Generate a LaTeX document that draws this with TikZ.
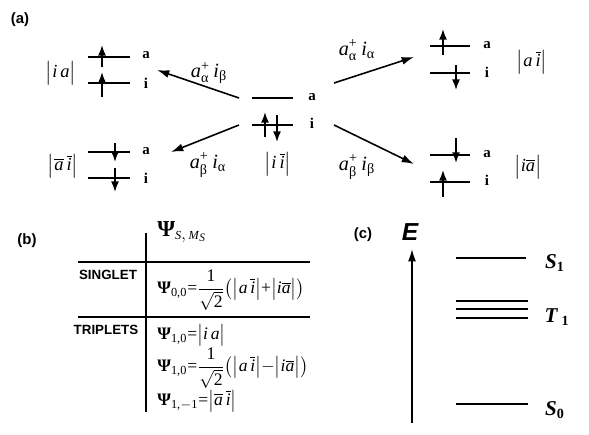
\documentclass[tikz,border=0pt]{standalone}
\usepackage{amsmath}
\usepackage{fontspec}
\setmainfont{Liberation Serif}
\setsansfont{Liberation Sans}
\usetikzlibrary{arrows.meta}

\begin{document}
\begin{tikzpicture}[x=0.02cm,y=-0.02cm]

\newcommand{\ti}[1]{\textit{#1}}
\newcommand{\ob}[1]{$\overline{\mbox{\textit{#1}}}$}
\newcommand{\kt}[1]{$\big|$#1$\big|$}
\newcommand{\Ps}{\textbf{Ψ}}
\newcommand{\op}[2]{$\text{\ti{a}}^{\text{+}}_{\text{#1}}\,\text{\ti{i}}_{\text{#2}}$}
\newcommand{\half}{$\dfrac{\text{1}}{\sqrt{\text{2}}}$}

 \tikzset{
      lev/.style={line width=1.1pt},
      spin/.style={line width=0.9pt,-{Latex[length=6pt,width=4.5pt]}},
      trans/.style={line width=0.9pt,-{Latex[length=7pt,width=4.5pt]}},
      orb/.style={font=\bfseries\fontsize{8.5}{8.5}\selectfont,inner sep=0pt},
      ketl/.style={font=\fontsize{10.5}{10.5}\selectfont,inner sep=0pt},
      opl/.style={font=\fontsize{11.5}{11.5}\selectfont,inner sep=0pt},
      part/.style={font=\sffamily\bfseries\fontsize{8.5}{8.5}\selectfont,inner sep=0pt},
      tabl/.style={font=\sffamily\bfseries\fontsize{7.6}{7.6}\selectfont,inner sep=0pt},
      eql/.style={font=\fontsize{10}{10}\selectfont,inner sep=0pt,anchor=west},
      lvl/.style={font=\bfseries\itshape\fontsize{12}{12}\selectfont,inner sep=0pt},
    }

 \useasboundingbox (0,0) rectangle (589,434);

% (a) centre: ground configuration
 \draw[lev] (252,98) -- (293,98);
 \draw[lev] (252,125) -- (293,125);
 \draw[spin] (265,137) -- (265,112);
 \draw[spin] (277,115) -- (277,142);
 \node[orb] (ca) at (312,97) {a};
 \node[orb] (ci) at (312,123) {i};
 \node[ketl] (kii) at (278,164) {\kt{\ti{i}\,\ob{i}}};

% upper left
 \draw[lev] (88,57) -- (130,57);
 \draw[lev] (88,83) -- (130,83);
 \draw[spin] (102,67) -- (102,45);
 \draw[spin] (102,97) -- (102,72);
 \node[orb] (tla) at (146,55) {a};
 \node[orb] (tli) at (146,83) {i};
 \node[ketl] (kia) at (61,73) {\kt{\ti{i}\,\ti{a}}};

% lower left
 \draw[lev] (88,152) -- (130,152);
 \draw[lev] (88,178) -- (130,178);
 \draw[spin] (115,143) -- (115,162);
 \draw[spin] (115,168) -- (115,192);
 \node[orb] (bla) at (146,151) {a};
 \node[orb] (bli) at (146,178) {i};
 \node[ketl] (kaibar) at (63,166) {\kt{\ob{a}\,\ob{i}}};

% upper right
 \draw[lev] (430,46) -- (470,46);
 \draw[lev] (430,73) -- (470,73);
 \draw[spin] (443,55) -- (443,29);
 \draw[spin] (456,65) -- (456,90);
 \node[orb] (tra) at (487,45) {a};
 \node[orb] (tri) at (487,72) {i};
 \node[ketl] (kai) at (532,62) {\kt{\ti{a}\,\ob{i}}};

% lower right
 \draw[lev] (430,155) -- (470,155);
 \draw[lev] (430,182) -- (470,182);
 \draw[spin] (456,138) -- (456,163);
 \draw[spin] (443,197) -- (443,170);
 \node[orb] (bra) at (487,154) {a};
 \node[orb] (bri) at (487,180) {i};
 \node[ketl] (kia2) at (528,167) {\kt{\ti{i}\ob{a}}};

 \coordinate (s1) at (239,98);
 \coordinate (s2) at (239,125);
 \coordinate (s3) at (334,83);
 \coordinate (s4) at (334,125);
 \coordinate (e1) at (157,70);
 \coordinate (e2) at (171,152);
 \coordinate (e3) at (414,57);
 \coordinate (e4) at (414,164);

 \draw[trans] (s1) -- (e1);
 \draw[trans] (s2) -- (e2);
 \draw[trans] (s3) -- (e3);
 \draw[trans] (s4) -- (e4);

 \node[opl] (o1) at (209,73) {\op{α}{β}};
 \node[opl] (o2) at (208,165) {\op{β}{α}};
 \node[opl] (o3) at (357,50) {\op{α}{α}};
 \node[opl] (o4) at (357,167) {\op{β}{β}};

 \node[part] (pa) at (20,20) {(a)};

% (b) table
 \node[part] (pb) at (27,241) {(b)};
 \coordinate (vt) at (146,233);
 \coordinate (vb) at (146,412);
 \coordinate (h1l) at (78,262);
 \coordinate (h1r) at (310,262);
 \coordinate (h2l) at (78,317);
 \coordinate (h2r) at (310,317);
 \draw[lev] (vt) -- (vb);
 \draw[lev] (h1l) -- (h1r);
 \draw[lev] (h2l) -- (h2r);

 \node[font=\fontsize{13}{13}\selectfont,inner sep=0pt,anchor=west] (hd) at (157,232)
   {\Ps$_{\text{\fontsize{7}{7}\selectfont\ti{S}},\,\text{\fontsize{7}{7}\selectfont\ti{M}}_{\text{\ti{S}}}}$};
 \node[tabl] (sg) at (108,275) {SINGLET};
 \node[tabl] (tp) at (106,330) {TRIPLETS};

 \node[eql] (q1) at (157,290)
   {\Ps$_{\text{0,0}}$=\half$\big($\kt{\ti{a}\,\ob{i}}+\kt{\ti{i}\ob{a}}$\big)$};
 \node[eql] (q2) at (157,335) {\Ps$_{\text{1,0}}$=\kt{\ti{i}\,\ti{a}}};
 \node[eql] (q3) at (157,368)
   {\Ps$_{\text{1,0}}$=\half$\big($\kt{\ti{a}\,\ob{i}}$-$\kt{\ti{i}\ob{a}}$\big)$};
 \node[eql] (q4) at (157,401) {\Ps$_{\text{1,$-$1}}$=\kt{\ob{a}\,\ob{i}}};

% (c) energy levels
 \node[part] (pc) at (363,235) {(c)};
 \node[font=\sffamily\bfseries\itshape\fontsize{14}{14}\selectfont,inner sep=0pt] (en) at (410,232) {E};
 \coordinate (ebot) at (412,423);
 \coordinate (etop) at (412,249);
 \draw[trans] (ebot) -- (etop);

 \draw[lev] (456,258) -- (526,258);
 \draw[lev] (456,301) -- (528,301);
 \draw[lev] (456,309) -- (528,309);
 \draw[lev] (456,318) -- (528,318);
 \draw[lev] (456,404) -- (528,404);
 \node[lvl] (ls1) at (555,263) {S$_{\textup{\bfseries 1}}$};
 \node[lvl] (lt1) at (557,317) {T$_{\;\textup{\bfseries 1}}$};
 \node[lvl] (ls0) at (555,410) {S$_{\textup{\bfseries 0}}$};
\end{tikzpicture}
\end{document}
